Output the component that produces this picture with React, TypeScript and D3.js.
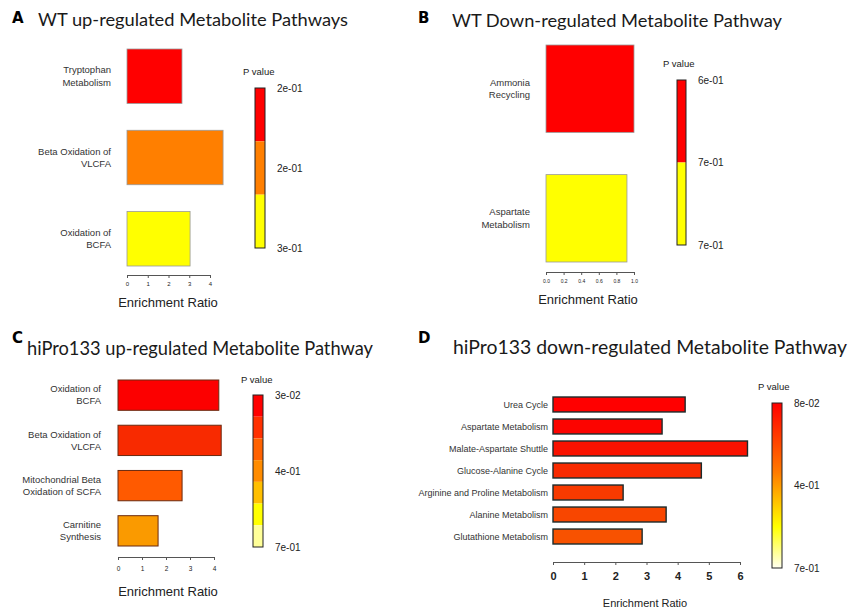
import React, { useEffect, useRef } from "react";
import * as d3 from "d3";

// A: WT up-regulated
const aPathways = ["Tryptophan\nMetabolism", "Beta Oxidation of\nVLCFA", "Oxidation of\nBCFA"];
const aRatio = [2.65, 4.63, 3.04];
const aBarColors = ["#ff0000", "#ff7f00", "#ffff00"];
const aLegendColors = ["#ff0000", "#ff7f00", "#ffff00"];
const aLegendLabels = ["2e-01", "2e-01", "3e-01"];
const aTicks = [0, 1, 2, 3, 4];

// B: WT down-regulated
const bPathways = ["Ammonia\nRecycling", "Aspartate\nMetabolism"];
const bRatio = [1.0, 0.92];
const bBarColors = ["#ff0000", "#ffff00"];
const bLegendColors = ["#ff0000", "#ffff00"];
const bLegendLabels = ["6e-01", "7e-01", "7e-01"];
const bTicks = [0, 0.2, 0.4, 0.6, 0.8, 1.0];

// C: hiPro133 up-regulated
const cPathways = [
  "Oxidation of\nBCFA",
  "Beta Oxidation of\nVLCFA",
  "Mitochondrial Beta\nOxidation of SCFA",
  "Carnitine\nSynthesis",
];
const cRatio = [4.2, 4.3, 2.67, 1.67];
const cBarColors = ["#fc0000", "#f82a00", "#ff5a00", "#fa9a00"];
const cLegendColors = ["#ff0000", "#ff3000", "#ff6200", "#ff8c00", "#ffbf00", "#ffff00", "#ffff99"];
const cLegendLabels = ["3e-02", "4e-01", "7e-01"];
const cTicks = [0, 1, 2, 3, 4];

// D: hiPro133 down-regulated
const dPathways = [
  "Urea Cycle",
  "Aspartate Metabolism",
  "Malate-Aspartate Shuttle",
  "Glucose-Alanine Cycle",
  "Arginine and Proline Metabolism",
  "Alanine Metabolism",
  "Glutathione Metabolism",
];
const dRatio = [4.24, 3.5, 6.24, 4.76, 2.25, 3.63, 2.86];
const dBarColors = ["#ff0000", "#fc0400", "#fa1200", "#f82a00", "#f83a00", "#f84600", "#f85200"];
const dLegendStops = ["#ff0000", "#ff7a00", "#ffff00", "#fffff0"];
const dLegendLabels = ["8e-02", "4e-01", "7e-01"];
const dTicks = [0, 1, 2, 3, 4, 5, 6];

const labelFont = "'Liberation Sans', Arial, sans-serif";
const titleFont = "Lato, 'Open Sans', sans-serif";

const panels = [
  {
    id: "A", letterX: 12, letterY: 23, title: "WT up-regulated Metabolite Pathways",
    titleX: 38, titleY: 26, titleLen: 310, titleSize: 17,
    cats: aPathways, vals: aRatio, colors: aBarColors,
    top: 49, bottom: 266, pad: 0.33, x0: 127, x1: 210, max: 4, ticks: aTicks,
    fmt: (d: number) => String(d), tickFs: 6, tickW: 400, axisY: 275, tickPad: 4,
    barStroke: "#999", barSw: 0.8, labGap: 16, labFs: 9.5, lineH: 12.5,
    axTitleX: 168, axTitleY: 307, axTitleFs: 13,
    legX: 255, legW: 10, legTop: 88, legBottom: 248, legColors: aLegendColors,
    legLabels: aLegendLabels, pvX: 243, pvY: 75, legFs: 10,
  },
  {
    id: "B", letterX: 418, letterY: 23, title: "WT Down-regulated Metabolite Pathway",
    titleX: 452, titleY: 27, titleLen: 330, titleSize: 17,
    cats: bPathways, vals: bRatio, colors: bBarColors,
    top: 45, bottom: 262, pad: 0.326, x0: 546, x1: 634, max: 1, ticks: bTicks,
    fmt: (d: number) => d.toFixed(1), tickFs: 5, tickW: 400, axisY: 272, tickPad: 4,
    barStroke: "#999", barSw: 0.8, labGap: 16, labFs: 9.5, lineH: 12.5,
    axTitleX: 588, axTitleY: 304, axTitleFs: 13,
    legX: 677, legW: 9, legTop: 80, legBottom: 245, legColors: bLegendColors,
    legLabels: bLegendLabels, pvX: 663, pvY: 67, legFs: 10,
  },
  {
    id: "C", letterX: 12, letterY: 343, title: "hiPro133 up-regulated Metabolite Pathway",
    titleX: 27, titleY: 355, titleLen: 346, titleSize: 19,
    cats: cPathways, vals: cRatio, colors: cBarColors,
    top: 380, bottom: 546, pad: 0.33, x0: 118, x1: 214, max: 4, ticks: cTicks,
    fmt: (d: number) => String(d), tickFs: 6.5, tickW: 400, axisY: 557, tickPad: 6,
    barStroke: "#6a2a10", barSw: 1, labGap: 17, labFs: 9.5, lineH: 12,
    axTitleX: 168, axTitleY: 596, axTitleFs: 13,
    legX: 253, legW: 10, legTop: 395, legBottom: 547, legColors: cLegendColors,
    legLabels: cLegendLabels, pvX: 241, pvY: 383, legFs: 10,
  },
  {
    id: "D", letterX: 418, letterY: 343, title: "hiPro133 down-regulated Metabolite Pathway",
    titleX: 453, titleY: 354, titleLen: 394, titleSize: 19.5,
    cats: dPathways, vals: dRatio, colors: dBarColors,
    top: 397, bottom: 544, pad: 0.32, x0: 553, x1: 740, max: 6, ticks: dTicks,
    fmt: (d: number) => String(d), tickFs: 11, tickW: 700, axisY: 562, tickPad: 7,
    barStroke: "#1c2b2b", barSw: 1.4, labGap: 5, labFs: 9, lineH: 12,
    axTitleX: 645, axTitleY: 607, axTitleFs: 11,
    legX: 772, legW: 10, legTop: 403, legBottom: 568, legColors: null,
    legLabels: dLegendLabels, pvX: 758, pvY: 390, legFs: 10,
  },
];

type Cfg = (typeof panels)[number];

function Panel({ cfg }: { cfg: Cfg }) {
  const axisRef = useRef<SVGGElement>(null);
  const y = d3.scaleBand<string>().domain(cfg.cats).range([cfg.top, cfg.bottom]).paddingInner(cfg.pad);
  const x = d3.scaleLinear().domain([0, cfg.max]).range([cfg.x0, cfg.x1]);
  const lab = d3.scaleLinear().domain([0, cfg.legLabels.length - 1]).range([cfg.legTop, cfg.legBottom]);

  useEffect(() => {
    const g = d3.select(axisRef.current);
    g.selectAll("*").remove();
    g.call(
      d3.axisBottom(x)
        .tickValues(cfg.ticks)
        .tickSize(3)
        .tickPadding(cfg.tickPad)
        .tickFormat(cfg.fmt as any)
    );
    g.select(".domain").attr("stroke", "#555").attr("stroke-width", 1);
    g.selectAll(".tick line").attr("stroke", "#555");
    g.selectAll(".tick text")
      .attr("font-size", cfg.tickFs)
      .attr("font-family", labelFont)
      .attr("font-weight", cfg.tickW)
      .attr("fill", "#222");
  }, []);

  let legend;
  if (cfg.legColors) {
    const seg = d3.scaleLinear().domain([0, cfg.legColors.length]).range([cfg.legTop, cfg.legBottom]);
    legend = cfg.legColors.map((c, i) => (
      <rect key={i} x={cfg.legX} y={seg(i)} width={cfg.legW} height={seg(i + 1) - seg(i)} fill={c} />
    ));
  } else {
    legend = (
      <rect x={cfg.legX} y={cfg.legTop} width={cfg.legW} height={cfg.legBottom - cfg.legTop} fill="url(#dgrad)" />
    );
  }

  return (
    <g>
      <text x={cfg.letterX} y={cfg.letterY} fontFamily="'DejaVu Sans', sans-serif" fontWeight={700} fontSize={15}>
        {cfg.id}
      </text>
      <text x={cfg.titleX} y={cfg.titleY} fontFamily={titleFont} fontSize={cfg.titleSize} fill="#1a1a1a"
        textLength={cfg.titleLen} lengthAdjust="spacingAndGlyphs">
        {cfg.title}
      </text>
      {cfg.cats.map((c, i) => (
        <rect key={c} x={x(0)} y={y(c)} width={x(cfg.vals[i]) - x(0)} height={y.bandwidth()}
          fill={cfg.colors[i]} stroke={cfg.barStroke} strokeWidth={cfg.barSw} />
      ))}
      {cfg.cats.map((c) => {
        const lines = c.split("\n");
        const cy = (y(c) as number) + y.bandwidth() / 2;
        return (
          <text key={c} x={x(0) - cfg.labGap} textAnchor="end" fontFamily={labelFont}
            fontSize={cfg.labFs} fill="#333">
            {lines.map((l, k) => (
              <tspan key={k} x={x(0) - cfg.labGap}
                y={cy + (k - (lines.length - 1) / 2) * cfg.lineH + cfg.labFs * 0.35}>
                {l}
              </tspan>
            ))}
          </text>
        );
      })}
      <g ref={axisRef} transform={`translate(0,${cfg.axisY})`} />
      <text x={cfg.axTitleX} y={cfg.axTitleY} textAnchor="middle" fontFamily={labelFont}
        fontSize={cfg.axTitleFs} fill="#222">
        Enrichment Ratio
      </text>
      <text x={cfg.pvX} y={cfg.pvY} fontFamily={labelFont} fontSize={9.5} fill="#222">P value</text>
      {legend}
      <rect x={cfg.legX} y={cfg.legTop} width={cfg.legW} height={cfg.legBottom - cfg.legTop}
        fill="none" stroke="#222" strokeWidth={1} />
      {cfg.legLabels.map((l, i) => (
        <text key={i} x={cfg.legX + cfg.legW + 12} y={lab(i) + 3.5} fontFamily={labelFont}
          fontSize={cfg.legFs} fill="#222">
          {l}
        </text>
      ))}
    </g>
  );
}

export default function App() {
  return (
    <div style={{ position: "absolute", left: 0, top: 0 }}>
      <svg width={857} height={611} style={{ display: "block", background: "#fff" }}>
        <defs>
          <linearGradient id="dgrad" x1="0" y1="0" x2="0" y2="1">
            {dLegendStops.map((c, i) => (
              <stop key={i} offset={[0, 0.42, 0.75, 1][i]} stopColor={c} />
            ))}
          </linearGradient>
        </defs>
        {panels.map((p) => (
          <Panel key={p.id} cfg={p} />
        ))}
      </svg>
    </div>
  );
}
